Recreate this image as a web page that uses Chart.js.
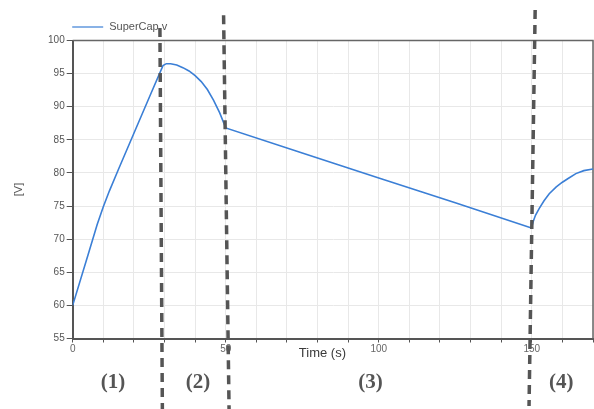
<!DOCTYPE html>
<html>
<head>
<meta charset="utf-8">
<script src="https://cdn.jsdelivr.net/npm/chart.js@4.4.1/dist/chart.umd.min.js"></script>
<style>
  html, body { margin: 0; padding: 0; background: #fff; }
  #wrap { width: 594px; height: 409px; position: relative; }
</style>
</head>
<body>
<div id="wrap"><canvas id="capChart"></canvas></div>
<script>
// SuperCap voltage
const timeS = [
  0, 5, 8, 10, 12, 15, 20, 25, 29.5,
  30.6, 32, 34, 36, 38, 40, 42, 44, 46, 48, 50,
  75, 100, 125, 149.9,
  150.5, 151.2, 152.4, 154, 155.7, 158, 160, 162, 164.4, 167, 170,
];
const voltage = [
  60, 67.6, 72.2, 74.9, 77.3, 80.6, 86.0, 91.4, 96.2,
  96.5, 96.5, 96.3, 95.9, 95.4, 94.7, 93.8, 92.6, 91.0, 89.1, 86.8,
  83.0, 79.25, 75.5, 71.7,
  72.7, 73.6, 74.6, 75.8, 76.85, 77.9, 78.6, 79.2, 79.9, 80.35, 80.6,
];

// phase separators (dashed), top and bottom ends in data units
const phaseTopX = [28.5, 49.3, 151.1];
const phaseTopY = [101.9, 103.8, 104.6];
const phaseBottomX = [29.3, 51.1, 149.1];
const phaseBottomY = [44.2, 44.0, 44.8];

// phase labels
const phaseNames = ["(1)", "(2)", "(3)", "(4)"];
const phaseLabelX = [13.2, 40.9, 97.3, 159.6];
const phaseLabelY = 48.4;

const xTitle = "Time (s)";
const xTitleX = 81.6;
const xTitleY = 52.8;

const seriesName = "SuperCap.v";
const lineColor = "#3b7fd6";

const points = timeS.map((t, i) => ({ x: t, y: voltage[i] }));

// frame, legend and annotations
const overlay = {
  id: "overlay",
  beforeDatasetsDraw(chart) {
    const { ctx, chartArea: a } = chart;
    ctx.save();
    ctx.strokeStyle = "#666";
    ctx.lineWidth = 1.5;
    ctx.beginPath();
    ctx.moveTo(a.left, a.top);
    ctx.lineTo(a.right, a.top);
    ctx.lineTo(a.right, a.bottom);
    ctx.stroke();
    ctx.restore();
  },
  afterDraw(chart) {
    const { ctx, chartArea: a, scales } = chart;
    const xs = scales.x;
    const ys = scales.y;
    ctx.save();

    // legend
    const ly = a.top - 13.5;
    ctx.strokeStyle = lineColor;
    ctx.lineWidth = 1.2;
    ctx.beginPath();
    ctx.moveTo(a.left - 0.5, ly);
    ctx.lineTo(a.left + 30.5, ly);
    ctx.stroke();
    ctx.fillStyle = "#555";
    ctx.font = '11px "Liberation Sans", Arial, sans-serif';
    ctx.textAlign = "left";
    ctx.textBaseline = "middle";
    ctx.fillText(seriesName, a.left + 36.5, ly);

    // x title
    ctx.fillStyle = "#3a3a3a";
    ctx.font = '13px "Liberation Sans", Arial, sans-serif';
    ctx.textAlign = "center";
    ctx.fillText(xTitle, xs.getPixelForValue(xTitleX), ys.getPixelForValue(xTitleY));

    // dashed separators
    ctx.strokeStyle = "#555";
    ctx.lineWidth = 3.5;
    ctx.setLineDash([9, 6]);
    for (let i = 0; i < phaseTopX.length; i++) {
      ctx.beginPath();
      ctx.moveTo(xs.getPixelForValue(phaseTopX[i]), ys.getPixelForValue(phaseTopY[i]));
      ctx.lineTo(xs.getPixelForValue(phaseBottomX[i]), ys.getPixelForValue(phaseBottomY[i]));
      ctx.stroke();
    }
    ctx.setLineDash([]);

    // phase labels
    ctx.fillStyle = "#555";
    ctx.font = 'bold 21px "Liberation Serif", "Times New Roman", serif';
    ctx.textAlign = "center";
    ctx.textBaseline = "middle";
    phaseNames.forEach((name, i) => {
      ctx.fillText(name, xs.getPixelForValue(phaseLabelX[i]), ys.getPixelForValue(phaseLabelY));
    });
    ctx.restore();
  },
};

const tickFont = { family: '"Liberation Sans", Arial, sans-serif', size: 10 };

new Chart(document.getElementById("capChart"), {
  type: "line",
  data: {
    datasets: [
      {
        label: seriesName,
        data: points,
        borderColor: lineColor,
        borderWidth: 1.6,
        pointRadius: 0,
        fill: false,
        tension: 0,
      },
    ],
  },
  options: {
    responsive: true,
    maintainAspectRatio: false,
    animation: false,
    layout: { padding: { top: 40.5, right: 1, left: 0, bottom: 0 } },
    plugins: {
      legend: { display: false },
      tooltip: { enabled: false },
    },
    scales: {
      x: {
        type: "linear",
        min: 0,
        max: 170,
        afterFit: (s) => { s.height = 70.5; },
        ticks: {
          stepSize: 10,
          autoSkip: false,
          maxRotation: 0,
          padding: 1,
          color: "#666",
          font: tickFont,
          callback: (v) => (v % 50 === 0 ? v : ""),
        },
        grid: { color: "#e8e8e8", tickColor: "#555", tickLength: 4 },
        border: { color: "#555", width: 2 },
      },
      y: {
        min: 55,
        max: 100,
        afterFit: (s) => { s.width = 72.7; },
        ticks: { stepSize: 5, padding: 2, color: "#555", font: tickFont },
        grid: { color: "#e8e8e8", tickColor: "#555", tickLength: 6 },
        border: { color: "#555", width: 2 },
        title: {
          display: true,
          text: "[V]",
          color: "#555",
          font: { family: '"Liberation Sans", Arial, sans-serif', size: 11 },
          padding: { top: 12.4, bottom: 0 },
        },
      },
    },
  },
  plugins: [overlay],
});
</script>
</body>
</html>
